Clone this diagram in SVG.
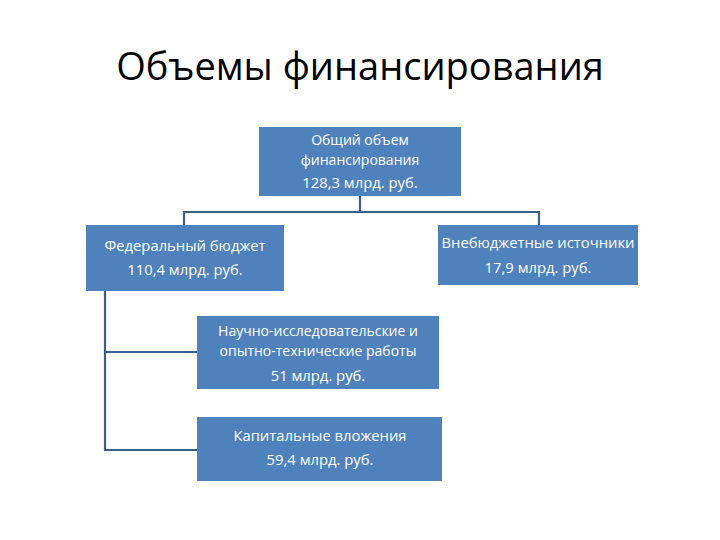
<svg xmlns="http://www.w3.org/2000/svg" width="720" height="540" viewBox="0 0 720 540">
<style>
.box{fill:#4F81BD;}
.t{font-family:"Open Sans","Noto Sans","DejaVu Sans",sans-serif;font-size:14.8px;fill:#FFFFFF;text-anchor:middle;}
.s{font-size:14px;}
.c{fill:none;stroke:#3C5E8A;stroke-width:2.2;}
.title{font-family:"Open Sans","Noto Sans",sans-serif;font-size:38px;fill:#000000;text-anchor:middle;}
</style>
<rect width="720" height="540" fill="#FFFFFF"/>
<text class="title" x="360" y="80">Объемы финансирования</text>
<g id="connectors">
<path class="c" d="M360,196 V212 M184,225 V212 H539 V225"/>
<path class="c" d="M105,291 V450 H197 M105,352 H197"/>
</g>
<g id="total">
<rect class="box" x="259" y="127" width="202" height="69"/>
<text class="t s" x="360" y="145">Общий объем</text>
<text class="t s" x="360" y="164.5">финансирования</text>
<text class="t" x="360" y="188">128,3 млрд. руб.</text>
</g>
<g id="federal">
<rect class="box" x="86" y="225" width="198" height="66"/>
<text class="t" x="185" y="251">Федеральный бюджет</text>
<text class="t" x="185" y="275">110,4 млрд. руб.</text>
</g>
<g id="extra">
<rect class="box" x="438" y="225" width="200" height="60"/>
<text class="t" x="538" y="248">Внебюджетные источники</text>
<text class="t" x="538" y="273">17,9 млрд. руб.</text>
</g>
<g id="niokr">
<rect class="box" x="197" y="316" width="242" height="73"/>
<text class="t s" x="318" y="336">Научно-исследовательские и</text>
<text class="t s" x="318" y="356">опытно-технические работы</text>
<text class="t" x="318" y="381">51 млрд. руб.</text>
</g>
<g id="capital">
<rect class="box" x="197" y="417" width="245" height="64"/>
<text class="t" x="320" y="441">Капитальные вложения</text>
<text class="t" x="320" y="465">59,4 млрд. руб.</text>
</g>
</svg>
